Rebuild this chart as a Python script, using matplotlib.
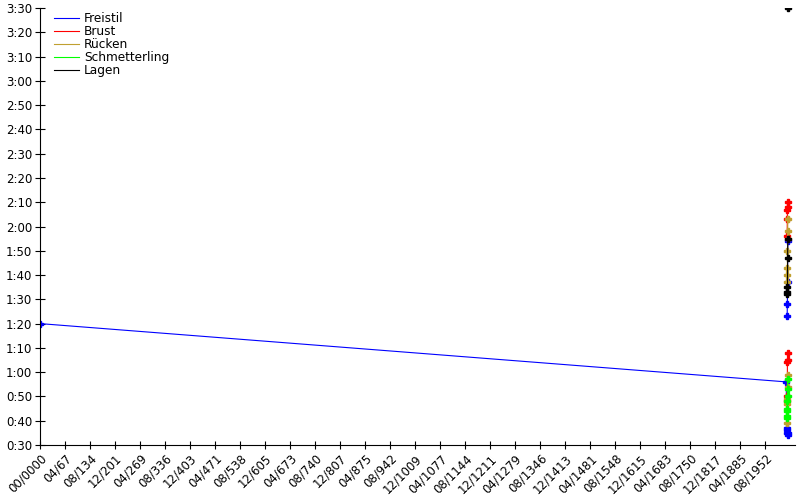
#!/usr/bin/env python
import numpy as np
import matplotlib.pyplot as plt
from matplotlib.ticker import FuncFormatter

# x tick labels (month/year, odd date axis)
tick_labels = ['00/0000', '04/67', '08/134', '12/201', '04/269', '08/336',
               '12/403', '04/471', '08/538', '12/605', '04/673', '08/740',
               '12/807', '04/875', '08/942', '12/1009', '04/1077', '08/1144',
               '12/1211', '04/1279', '08/1346', '12/1413', '04/1481', '08/1548',
               '12/1615', '04/1683', '08/1750', '12/1817', '04/1885', '08/1952']
tick_step_years = 808 / 12.0

# times as m:ss, dates as decimal years; one group per distance
freistil_short_dates = [0.0, 2009.0, 2011.6, 2012.0, 2012.4, 2012.8, 2013.2]
freistil_short_times = ['1:20', '0:56', '0:37', '0:36', '0:35', '0:34', '0:35']
freistil_long_dates = [2011.8, 2012.3, 2012.9, 2013.4]
freistil_long_times = ['1:23', '1:28', '1:37', '1:54']

brust_short_dates = [2011.7, 2012.1, 2012.5, 2012.9, 2013.3]
brust_short_times = ['0:48', '0:50', '1:04', '1:05', '1:08']
brust_long_dates = [2011.8, 2012.2, 2012.6, 2013.0, 2013.4]
brust_long_times = ['1:56', '2:03', '2:07', '2:08', '2:10']

ruecken_short_dates = [2011.6, 2012.0, 2012.4, 2012.8, 2013.2]
ruecken_short_times = ['0:39', '0:47', '0:49', '0:54', '0:59']
ruecken_long_dates = [2011.5, 2011.9, 2012.3, 2012.7, 2013.0, 2013.3, 2013.6]
ruecken_long_times = ['1:37', '1:40', '1:43', '1:50', '1:55', '1:58', '2:03']

schmetterling_dates = [2011.5, 2011.8, 2012.1, 2012.4, 2012.7, 2013.0, 2013.3, 2013.6]
schmetterling_times = ['0:41', '0:42', '0:44', '0:45', '0:48', '0:50', '0:53', '0:57']

lagen_long_dates = [2011.9, 2012.3, 2012.7, 2013.1, 2013.5]
lagen_long_times = ['1:32', '1:33', '1:35', '1:47', '1:55']
lagen_200_dates = [2013.6]
lagen_200_times = ['3:30']


def secs(ts):
    out = []
    for t in ts:
        m, s = t.split(':')
        out.append(int(m) * 60 + int(s))
    return out


series = [
    ('Freistil', '#0000ff', [(freistil_short_dates, freistil_short_times),
                             (freistil_long_dates, freistil_long_times)]),
    ('Brust', '#ff0000', [(brust_short_dates, brust_short_times),
                          (brust_long_dates, brust_long_times)]),
    ('Rücken', '#c0a030', [(ruecken_short_dates, ruecken_short_times),
                           (ruecken_long_dates, ruecken_long_times)]),
    ('Schmetterling', '#00ff00', [(schmetterling_dates, schmetterling_times)]),
    ('Lagen', '#000000', [(lagen_long_dates, lagen_long_times),
                          (lagen_200_dates, lagen_200_times)]),
]

fig = plt.figure(figsize=(8, 5), dpi=100)
ax = fig.add_axes([0.05, 0.11, 0.944, 0.874])

for name, color, groups in series:
    for i, (d, t) in enumerate(groups):
        ax.plot(d, secs(t), color=color, lw=0.8, marker='P', ms=4,
                mec=color, mfc=color, label=name if i == 0 else None)

ax.set_xlim(0, tick_step_years * 30.2)
ax.set_ylim(30, 210)

ax.set_xticks(np.arange(len(tick_labels)) * tick_step_years)
ax.set_xticklabels(tick_labels, rotation=45, ha='right',
                   rotation_mode='anchor', fontsize=8.5)
ax.set_yticks(np.arange(30, 211, 10))
ax.yaxis.set_major_formatter(FuncFormatter(lambda v, p: f'{int(v)//60}:{int(v)%60:02d}'))
ax.tick_params(axis='y', direction='inout', length=7, width=0.8, labelsize=8.5, pad=2)
ax.tick_params(axis='x', direction='inout', length=6, width=0.8, pad=2)

for s in ['top', 'right']:
    ax.spines[s].set_visible(False)
for s in ['left', 'bottom']:
    ax.spines[s].set_linewidth(0.8)

# legend shows lines only
handles, labels = ax.get_legend_handles_labels()
leg = ax.legend(handles, labels, loc='upper left', bbox_to_anchor=(0.017, 0.993),
                frameon=False, fontsize=8.7, handlelength=2.05, handletextpad=0.42,
                labelspacing=0.0, borderpad=0.1, borderaxespad=0.0)
for h in leg.legend_handles:
    h.set_marker('')

plt.savefig('out.png', dpi=100)
